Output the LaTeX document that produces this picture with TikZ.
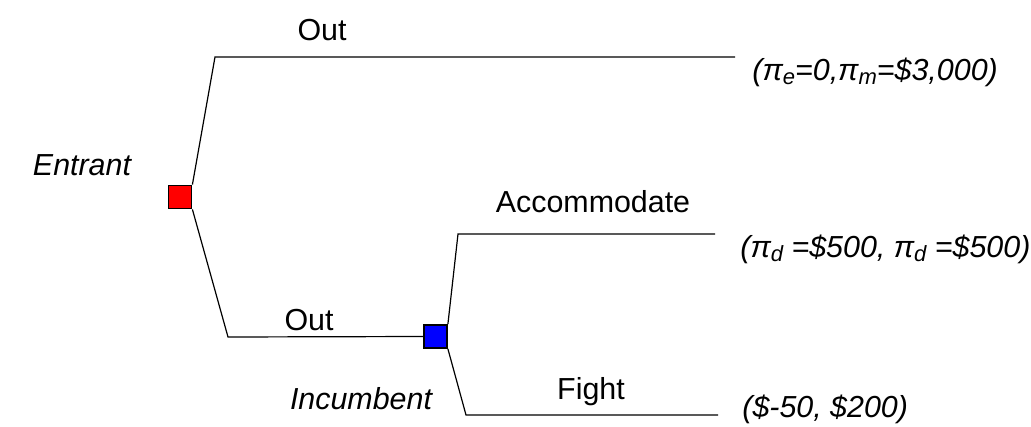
\documentclass[tikz,border=0pt]{standalone}
\usepackage{fontspec}
\setmainfont{Liberation Sans}
\newcommand{\mysub}[1]{\raisebox{-0.3ex}{\fontsize{11}{12}\selectfont #1}}
\begin{document}
\begin{tikzpicture}[x=0.5pt,y=-0.5pt,
  edge/.style={draw=black,line width=0.6pt},
  dec/.style={draw=black,line width=0.9pt,minimum size=11.5pt,inner sep=0pt},
  lbl/.style={font=\fontsize{15.2}{18}\selectfont,inner sep=0pt},
  ilbl/.style={font=\fontsize{15.2}{18}\selectfont\itshape,inner sep=0pt,anchor=west}]
\useasboundingbox (0,0) rectangle (1031,427);
\node[dec,fill=red] (E) at (180,197) {};
\node[dec,fill=blue] (I) at (435.5,336.5) {};
\coordinate (a1) at (215,57);
\coordinate (a2) at (735,57);
\coordinate (b1) at (228,337);
\coordinate (c1) at (458,234);
\coordinate (c2) at (715,234);
\coordinate (d1) at (466,415);
\coordinate (d2) at (718,415);
\draw[edge] (E.north east) -- (a1) -- (a2);
\draw[edge] (E.south east) -- (b1) -- (I.west);
\draw[edge] (I.north east) -- (c1) -- (c2);
\draw[edge] (I.south east) -- (d1) -- (d2);
\node[lbl] (t1) at (322,30) {Out};
\node[lbl] (t2) at (309,320) {Out};
\node[lbl] (t3) at (593,202) {Accommodate};
\node[lbl] (t4) at (591,392) {Fight};
\node[lbl,font=\fontsize{15.2}{18}\selectfont\itshape] (t5) at (82,165) {Entrant};
\node[lbl,font=\fontsize{15.2}{18}\selectfont\itshape] (t6) at (361,399) {Incumbent};
\node[ilbl] (p1) at (752,72) {(π\mysub{e}=0,π\mysub{m}=\$3,000)};
\node[ilbl] (p2) at (740,249) {(π\mysub{d} =\$500, π\mysub{d} =\$500)};
\node[ilbl] (p3) at (742,409) {(\$-50, \$200)};
\end{tikzpicture}
\end{document}
